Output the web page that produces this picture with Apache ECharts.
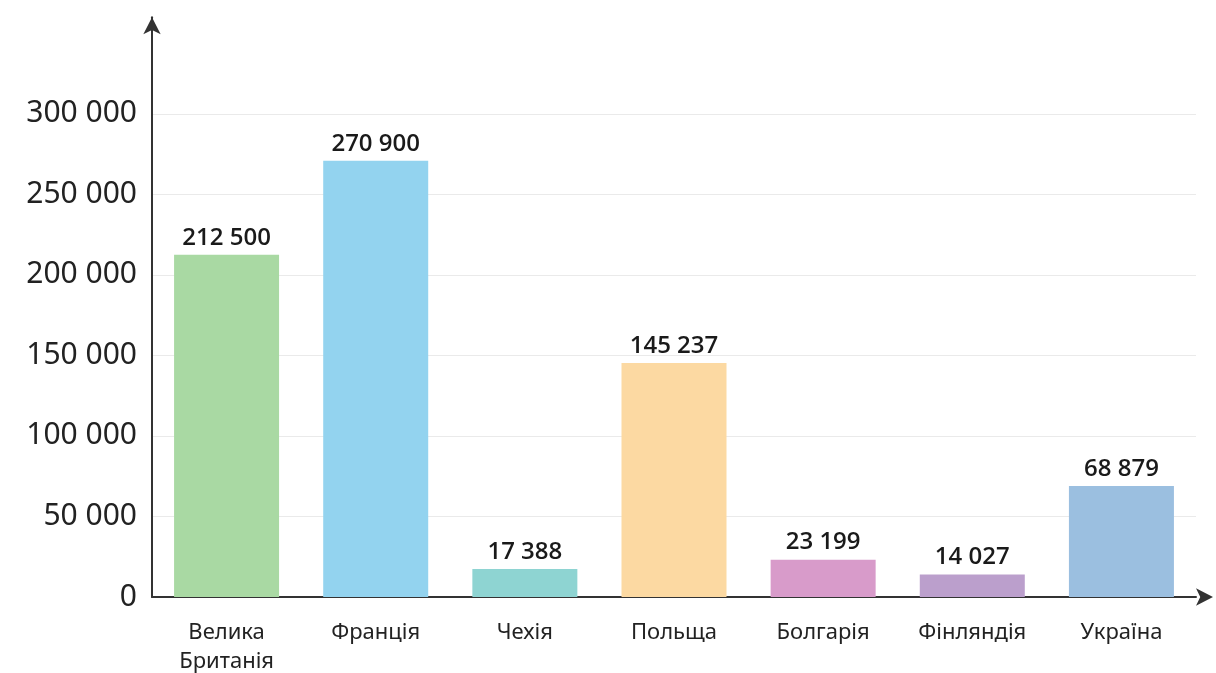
<!DOCTYPE html>
<html>
<head>
<meta charset="utf-8">
<script src="https://cdn.jsdelivr.net/npm/echarts@6/dist/echarts.min.js"></script>
<style>html,body{margin:0;padding:0;background:#fff;}#c{width:1216px;height:673px;}</style>
</head>
<body>
<div id="c"></div>
<script>
const categories = ['Велика\nБританія', 'Франція', 'Чехія', 'Польща', 'Болгарія', 'Фінляндія', 'Україна'];
const values = [212500, 270900, 17388, 145237, 23199, 14027, 68879];
const barColors = ['#a9d9a3', '#93d3ef', '#8ed4d2', '#fcd9a2', '#d89bca', '#bb9fcc', '#9bbfe0'];
const yTickMax = 300000;

const chart = echarts.init(document.getElementById('c'));
const fmt = v => String(v).replace(/\B(?=(\d{3})+(?!\d))/g, ' ');
const grid = '#eaeaea', none = 'rgba(0,0,0,0)';
chart.setOption({
  animation: false,
  grid: { left: 152, right: 20, top: 17.2, bottom: 76, outerBoundsMode: 'none', containLabel: false },
  xAxis: {
    type: 'category',
    data: categories,
    axisTick: { show: false },
    axisLine: { lineStyle: { color: '#333', width: 2 }, symbol: ['none', 'arrow'], symbolSize: [13, 17], symbolOffset: [0, 17] },
    axisLabel: { color: '#222', fontSize: 22, fontFamily: 'Noto Sans', margin: 21, lineHeight: 29, interval: 0, verticalAlign: 'top' }
  },
  yAxis: {
    type: 'value',
    min: 0, max: 360000, interval: 50000,
    axisLine: { show: true, lineStyle: { color: '#333', width: 2 }, symbol: ['none', 'arrow'], symbolSize: [13, 17] },
    axisTick: { show: false },
    splitLine: { showMaxLine: false, lineStyle: { color: [grid, grid, grid, grid, grid, grid, grid, none, none], width: 1 } },
    axisLabel: { color: '#222', fontSize: 30, fontFamily: 'Noto Sans', margin: 15,
      formatter: v => v > yTickMax ? '' : fmt(v) }
  },
  series: [{
    type: 'bar',
    barWidth: 105,
    data: values.map((v, i) => ({ value: v, itemStyle: { color: barColors[i] } })),
    label: { show: true, position: 'top', distance: 5, color: '#1a1a1a', fontSize: 24, fontFamily: 'Open Sans', fontWeight: 600, formatter: p => fmt(p.value) }
  }]
});
</script>
</body>
</html>
